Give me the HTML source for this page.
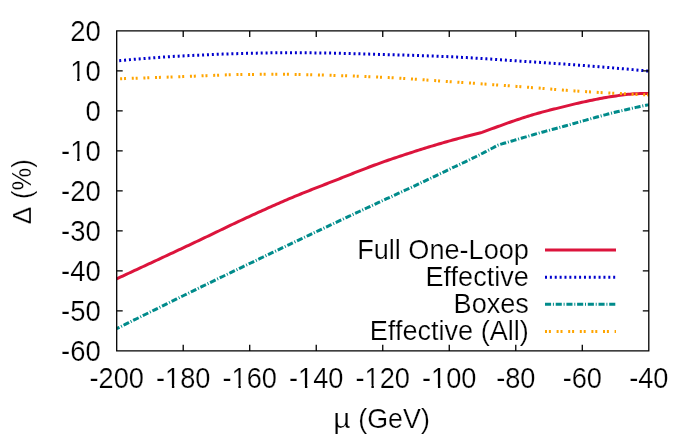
<!DOCTYPE html>
<html><head><meta charset="utf-8"><title>plot</title>
<style>
html,body{margin:0;padding:0;background:#fff;}
body{width:698px;height:438px;overflow:hidden;}
svg{display:block;will-change:transform;}
text{font-family:"Liberation Sans",sans-serif;font-size:27.2px;fill:#000;stroke:#fff;stroke-width:0.22px;}
</style></head><body>
<svg width="698" height="438" viewBox="0 0 698 438">
<rect width="698" height="438" fill="#fff"/>

<g fill="none" stroke-width="3" stroke-linejoin="round">
<path d="M116.7,278.80 L118.7,277.88 L120.7,276.95 L122.7,276.03 L124.7,275.10 L126.7,274.18 L128.7,273.25 L130.7,272.32 L132.7,271.40 L134.7,270.47 L136.7,269.54 L138.7,268.61 L140.7,267.68 L142.7,266.75 L144.7,265.82 L146.7,264.89 L148.7,263.96 L150.7,263.03 L152.7,262.10 L154.7,261.17 L156.7,260.24 L158.7,259.31 L160.7,258.37 L162.7,257.44 L164.7,256.51 L166.7,255.57 L168.7,254.64 L170.7,253.71 L172.7,252.77 L174.7,251.84 L176.7,250.90 L178.7,249.97 L180.7,249.03 L182.7,248.09 L184.7,247.16 L186.7,246.22 L188.7,245.28 L190.7,244.34 L192.7,243.40 L194.7,242.46 L196.7,241.51 L198.7,240.57 L200.7,239.62 L202.7,238.67 L204.7,237.72 L206.7,236.76 L208.7,235.80 L210.7,234.84 L212.7,233.88 L214.7,232.92 L216.7,231.95 L218.7,230.99 L220.7,230.02 L222.7,229.06 L224.7,228.10 L226.7,227.14 L228.7,226.18 L230.7,225.22 L232.7,224.27 L234.7,223.32 L236.7,222.37 L238.7,221.43 L240.7,220.49 L242.7,219.55 L244.7,218.62 L246.7,217.70 L248.7,216.78 L250.7,215.86 L252.7,214.95 L254.7,214.04 L256.7,213.12 L258.7,212.22 L260.7,211.31 L262.7,210.41 L264.7,209.51 L266.7,208.61 L268.7,207.71 L270.7,206.82 L272.7,205.93 L274.7,205.05 L276.7,204.17 L278.7,203.30 L280.7,202.43 L282.7,201.56 L284.7,200.70 L286.7,199.84 L288.7,198.99 L290.7,198.15 L292.7,197.31 L294.7,196.47 L296.7,195.65 L298.7,194.83 L300.7,194.01 L302.7,193.20 L304.7,192.40 L306.7,191.59 L308.7,190.80 L310.7,190.00 L312.7,189.21 L314.7,188.42 L316.7,187.64 L318.7,186.86 L320.7,186.07 L322.7,185.29 L324.7,184.51 L326.7,183.73 L328.7,182.95 L330.7,182.17 L332.7,181.39 L334.7,180.61 L336.7,179.83 L338.7,179.04 L340.7,178.25 L342.7,177.46 L344.7,176.67 L346.7,175.87 L348.7,175.08 L350.7,174.29 L352.7,173.50 L354.7,172.71 L356.7,171.92 L358.7,171.13 L360.7,170.35 L362.7,169.57 L364.7,168.80 L366.7,168.03 L368.7,167.27 L370.7,166.51 L372.7,165.77 L374.7,165.02 L376.7,164.29 L378.7,163.57 L380.7,162.85 L382.7,162.14 L384.7,161.44 L386.7,160.74 L388.7,160.04 L390.7,159.35 L392.7,158.67 L394.7,157.99 L396.7,157.32 L398.7,156.65 L400.7,155.98 L402.7,155.32 L404.7,154.66 L406.7,154.01 L408.7,153.36 L410.7,152.71 L412.7,152.07 L414.7,151.43 L416.7,150.79 L418.7,150.16 L420.7,149.53 L422.7,148.91 L424.7,148.28 L426.7,147.66 L428.7,147.05 L430.7,146.44 L432.7,145.83 L434.7,145.23 L436.7,144.63 L438.7,144.04 L440.7,143.46 L442.7,142.87 L444.7,142.30 L446.7,141.73 L448.7,141.16 L450.7,140.60 L452.7,140.05 L454.7,139.50 L456.7,138.95 L458.7,138.41 L460.7,137.87 L462.7,137.33 L464.7,136.80 L466.7,136.28 L468.7,135.75 L470.7,135.24 L472.7,134.72 L474.7,134.21 L476.7,133.71 L478.7,133.21 L480.7,132.72 L482.0,132.40 L484.0,131.65 L486.0,130.91 L488.0,130.17 L490.0,129.43 L492.0,128.70 L494.0,127.97 L496.0,127.24 L498.0,126.52 L500.0,125.80 L502.0,125.08 L504.0,124.36 L506.0,123.65 L508.0,122.93 L510.0,122.22 L512.0,121.51 L514.0,120.82 L516.0,120.13 L518.0,119.46 L520.0,118.80 L522.0,118.15 L524.0,117.51 L526.0,116.87 L528.0,116.25 L530.0,115.63 L532.0,115.02 L534.0,114.42 L536.0,113.84 L538.0,113.26 L540.0,112.70 L542.0,112.15 L544.0,111.62 L546.0,111.09 L548.0,110.58 L550.0,110.08 L552.0,109.58 L554.0,109.08 L556.0,108.59 L558.0,108.09 L560.0,107.60 L562.0,107.10 L564.0,106.60 L566.0,106.10 L568.0,105.60 L570.0,105.10 L572.0,104.61 L574.0,104.13 L576.0,103.65 L578.0,103.19 L580.0,102.74 L582.0,102.30 L584.0,101.87 L586.0,101.44 L588.0,101.02 L590.0,100.59 L592.0,100.17 L594.0,99.76 L596.0,99.35 L598.0,98.95 L600.0,98.56 L602.0,98.19 L604.0,97.82 L606.0,97.46 L608.0,97.12 L610.0,96.80 L612.0,96.49 L614.0,96.20 L616.0,95.92 L618.0,95.63 L620.0,95.35 L622.0,95.07 L624.0,94.81 L626.0,94.57 L628.0,94.34 L630.0,94.14 L632.0,93.98 L634.0,93.85 L636.0,93.76 L638.0,93.67 L640.0,93.59 L642.0,93.52 L644.0,93.46 L646.0,93.42 L648.0,93.40 L648.8,93.40" stroke="#dc143c"/>
<path d="M116.7,60.90 L118.7,60.71 L120.7,60.53 L122.7,60.35 L124.7,60.16 L126.7,59.98 L128.7,59.81 L130.7,59.63 L132.7,59.46 L134.7,59.28 L136.7,59.11 L138.7,58.95 L140.7,58.78 L142.7,58.62 L144.7,58.46 L146.7,58.30 L148.7,58.14 L150.7,57.99 L152.7,57.84 L154.7,57.69 L156.7,57.54 L158.7,57.40 L160.7,57.26 L162.7,57.12 L164.7,56.98 L166.7,56.85 L168.7,56.72 L170.7,56.60 L172.7,56.48 L174.7,56.36 L176.7,56.24 L178.7,56.13 L180.7,56.02 L182.7,55.92 L184.7,55.81 L186.7,55.71 L188.7,55.61 L190.7,55.51 L192.7,55.41 L194.7,55.32 L196.7,55.22 L198.7,55.13 L200.7,55.03 L202.7,54.94 L204.7,54.85 L206.7,54.76 L208.7,54.67 L210.7,54.59 L212.7,54.50 L214.7,54.42 L216.7,54.34 L218.7,54.26 L220.7,54.19 L222.7,54.11 L224.7,54.04 L226.7,53.96 L228.7,53.89 L230.7,53.83 L232.7,53.76 L234.7,53.70 L236.7,53.64 L238.7,53.58 L240.7,53.52 L242.7,53.47 L244.7,53.41 L246.7,53.36 L248.7,53.32 L250.7,53.27 L252.7,53.22 L254.7,53.18 L256.7,53.13 L258.7,53.08 L260.7,53.04 L262.7,52.99 L264.7,52.95 L266.7,52.91 L268.7,52.87 L270.7,52.83 L272.7,52.80 L274.7,52.77 L276.7,52.75 L278.7,52.73 L280.7,52.71 L282.7,52.70 L284.7,52.70 L286.7,52.70 L288.7,52.70 L290.7,52.71 L292.7,52.72 L294.7,52.73 L296.7,52.74 L298.7,52.75 L300.7,52.77 L302.7,52.78 L304.7,52.80 L306.7,52.81 L308.7,52.83 L310.7,52.85 L312.7,52.87 L314.7,52.89 L316.7,52.91 L318.7,52.93 L320.7,52.95 L322.7,52.98 L324.7,53.01 L326.7,53.04 L328.7,53.07 L330.7,53.11 L332.7,53.15 L334.7,53.19 L336.7,53.23 L338.7,53.28 L340.7,53.32 L342.7,53.37 L344.7,53.42 L346.7,53.47 L348.7,53.52 L350.7,53.58 L352.7,53.63 L354.7,53.69 L356.7,53.74 L358.7,53.80 L360.7,53.86 L362.7,53.91 L364.7,53.97 L366.7,54.03 L368.7,54.09 L370.7,54.15 L372.7,54.21 L374.7,54.26 L376.7,54.32 L378.7,54.38 L380.7,54.44 L382.7,54.49 L384.7,54.55 L386.7,54.60 L388.7,54.66 L390.7,54.72 L392.7,54.77 L394.7,54.83 L396.7,54.89 L398.7,54.95 L400.7,55.00 L402.7,55.06 L404.7,55.12 L406.7,55.18 L408.7,55.24 L410.7,55.31 L412.7,55.37 L414.7,55.43 L416.7,55.50 L418.7,55.56 L420.7,55.63 L422.7,55.69 L424.7,55.76 L426.7,55.83 L428.7,55.90 L430.7,55.98 L432.7,56.05 L434.7,56.12 L436.7,56.20 L438.7,56.28 L440.7,56.36 L442.7,56.44 L444.7,56.52 L446.7,56.60 L448.7,56.69 L450.7,56.77 L452.7,56.87 L454.7,56.96 L456.7,57.06 L458.7,57.16 L460.7,57.27 L462.7,57.38 L464.7,57.49 L466.7,57.60 L468.7,57.72 L470.7,57.84 L472.7,57.96 L474.7,58.08 L476.7,58.21 L478.7,58.33 L480.7,58.46 L482.7,58.59 L484.7,58.72 L486.7,58.86 L488.7,58.99 L490.7,59.12 L492.7,59.26 L494.7,59.40 L496.7,59.53 L498.7,59.67 L500.7,59.80 L502.7,59.94 L504.7,60.07 L506.7,60.21 L508.7,60.34 L510.7,60.48 L512.7,60.61 L514.7,60.74 L516.7,60.87 L518.7,61.00 L520.7,61.13 L522.7,61.26 L524.7,61.40 L526.7,61.53 L528.7,61.66 L530.7,61.79 L532.7,61.92 L534.7,62.06 L536.7,62.19 L538.7,62.32 L540.7,62.46 L542.7,62.59 L544.7,62.73 L546.7,62.86 L548.7,63.00 L550.7,63.14 L552.7,63.27 L554.7,63.41 L556.7,63.55 L558.7,63.69 L560.7,63.83 L562.7,63.98 L564.7,64.12 L566.7,64.26 L568.7,64.41 L570.7,64.55 L572.7,64.70 L574.7,64.85 L576.7,65.00 L578.7,65.15 L580.7,65.30 L582.7,65.45 L584.7,65.61 L586.7,65.76 L588.7,65.92 L590.7,66.08 L592.7,66.23 L594.7,66.39 L596.7,66.55 L598.7,66.72 L600.7,66.88 L602.7,67.04 L604.7,67.21 L606.7,67.37 L608.7,67.54 L610.7,67.71 L612.7,67.88 L614.7,68.05 L616.7,68.22 L618.7,68.39 L620.7,68.57 L622.7,68.74 L624.7,68.92 L626.7,69.09 L628.7,69.27 L630.7,69.45 L632.7,69.63 L634.7,69.81 L636.7,69.99 L638.7,70.17 L640.7,70.35 L642.7,70.53 L644.7,70.72 L646.7,70.90 L648.7,71.09 L648.8,71.10" stroke="#0000cd" stroke-dasharray="2 2.887" stroke-dashoffset="2.37"/>
<path d="M116.7,328.70 L118.7,327.70 L120.7,326.70 L122.7,325.70 L124.7,324.70 L126.7,323.70 L128.7,322.70 L130.7,321.71 L132.7,320.71 L134.7,319.71 L136.7,318.72 L138.7,317.72 L140.7,316.73 L142.7,315.74 L144.7,314.74 L146.7,313.75 L148.7,312.76 L150.7,311.77 L152.7,310.78 L154.7,309.79 L156.7,308.80 L158.7,307.81 L160.7,306.82 L162.7,305.83 L164.7,304.84 L166.7,303.86 L168.7,302.87 L170.7,301.89 L172.7,300.90 L174.7,299.92 L176.7,298.93 L178.7,297.95 L180.7,296.97 L182.7,295.99 L184.7,295.01 L186.7,294.03 L188.7,293.05 L190.7,292.07 L192.7,291.09 L194.7,290.11 L196.7,289.13 L198.7,288.16 L200.7,287.18 L202.7,286.21 L204.7,285.23 L206.7,284.26 L208.7,283.29 L210.7,282.31 L212.7,281.34 L214.7,280.37 L216.7,279.40 L218.7,278.43 L220.7,277.46 L222.7,276.49 L224.7,275.52 L226.7,274.56 L228.7,273.59 L230.7,272.62 L232.7,271.66 L234.7,270.69 L236.7,269.73 L238.7,268.76 L240.7,267.80 L242.7,266.84 L244.7,265.87 L246.7,264.91 L248.7,263.95 L250.7,262.99 L252.7,262.03 L254.7,261.07 L256.7,260.11 L258.7,259.15 L260.7,258.19 L262.7,257.23 L264.7,256.27 L266.7,255.32 L268.7,254.36 L270.7,253.40 L272.7,252.45 L274.7,251.49 L276.7,250.54 L278.7,249.58 L280.7,248.63 L282.7,247.67 L284.7,246.72 L286.7,245.77 L288.7,244.81 L290.7,243.86 L292.7,242.91 L294.7,241.96 L296.7,241.01 L298.7,240.06 L300.7,239.11 L302.7,238.16 L304.7,237.21 L306.7,236.26 L308.7,235.31 L310.7,234.36 L312.7,233.42 L314.7,232.47 L316.7,231.52 L318.7,230.58 L320.7,229.63 L322.7,228.69 L324.7,227.74 L326.7,226.80 L328.7,225.86 L330.7,224.91 L332.7,223.97 L334.7,223.03 L336.7,222.09 L338.7,221.14 L340.7,220.20 L342.7,219.26 L344.7,218.32 L346.7,217.38 L348.7,216.44 L350.7,215.51 L352.7,214.57 L354.7,213.63 L356.7,212.69 L358.7,211.75 L360.7,210.82 L362.7,209.88 L364.7,208.95 L366.7,208.01 L368.7,207.08 L370.7,206.14 L372.7,205.21 L374.7,204.27 L376.7,203.34 L378.7,202.41 L380.7,201.49 L382.7,200.56 L384.7,199.64 L386.7,198.71 L388.7,197.79 L390.7,196.87 L392.7,195.95 L394.7,195.03 L396.7,194.11 L398.7,193.19 L400.7,192.27 L402.7,191.34 L404.7,190.42 L406.7,189.50 L408.7,188.57 L410.7,187.64 L412.7,186.71 L414.7,185.78 L416.7,184.85 L418.7,183.91 L420.7,182.97 L422.7,182.03 L424.7,181.08 L426.7,180.13 L428.7,179.18 L430.7,178.23 L432.7,177.28 L434.7,176.32 L436.7,175.37 L438.7,174.41 L440.7,173.45 L442.7,172.50 L444.7,171.54 L446.7,170.58 L448.7,169.62 L450.7,168.67 L452.7,167.71 L454.7,166.76 L456.7,165.82 L458.7,164.88 L460.7,163.93 L462.7,162.99 L464.7,162.04 L466.7,161.09 L468.7,160.14 L470.7,159.18 L472.7,158.21 L474.7,157.23 L476.7,156.25 L478.7,155.25 L480.7,154.25 L482.7,153.23 L484.7,152.19 L486.7,151.15 L488.7,150.10 L490.7,149.04 L492.7,147.97 L494.7,146.89 L496.7,145.81 L498.0,145.10 L500.0,144.50 L502.0,143.91 L504.0,143.31 L506.0,142.72 L508.0,142.13 L510.0,141.54 L512.0,140.95 L514.0,140.36 L516.0,139.77 L518.0,139.19 L520.0,138.60 L522.0,138.01 L524.0,137.43 L526.0,136.84 L528.0,136.25 L530.0,135.67 L532.0,135.09 L534.0,134.51 L536.0,133.93 L538.0,133.36 L540.0,132.80 L542.0,132.25 L544.0,131.70 L546.0,131.16 L548.0,130.62 L550.0,130.09 L552.0,129.56 L554.0,129.02 L556.0,128.49 L558.0,127.95 L560.0,127.40 L562.0,126.85 L564.0,126.29 L566.0,125.72 L568.0,125.15 L570.0,124.59 L572.0,124.02 L574.0,123.45 L576.0,122.88 L578.0,122.32 L580.0,121.76 L582.0,121.20 L584.0,120.65 L586.0,120.09 L588.0,119.53 L590.0,118.98 L592.0,118.42 L594.0,117.87 L596.0,117.31 L598.0,116.76 L600.0,116.21 L602.0,115.67 L604.0,115.13 L606.0,114.60 L608.0,114.07 L610.0,113.56 L612.0,113.05 L614.0,112.55 L616.0,112.06 L618.0,111.57 L620.0,111.09 L622.0,110.61 L624.0,110.14 L626.0,109.67 L628.0,109.21 L630.0,108.75 L632.0,108.30 L634.0,107.85 L636.0,107.40 L638.0,106.97 L640.0,106.53 L642.0,106.11 L644.0,105.69 L646.0,105.27 L648.0,104.86 L648.8,104.70" stroke="#008b8b" stroke-dasharray="6.1 1.8 1 1.815" stroke-dashoffset="3.0"/>
<path d="M116.7,78.90 L118.7,78.83 L120.7,78.76 L122.7,78.69 L124.7,78.62 L126.7,78.55 L128.7,78.48 L130.7,78.41 L132.7,78.34 L134.7,78.27 L136.7,78.20 L138.7,78.13 L140.7,78.06 L142.7,77.99 L144.7,77.92 L146.7,77.85 L148.7,77.78 L150.7,77.71 L152.7,77.64 L154.7,77.57 L156.7,77.50 L158.7,77.43 L160.7,77.36 L162.7,77.29 L164.7,77.22 L166.7,77.16 L168.7,77.09 L170.7,77.02 L172.7,76.95 L174.7,76.88 L176.7,76.81 L178.7,76.75 L180.7,76.68 L182.7,76.61 L184.7,76.54 L186.7,76.47 L188.7,76.39 L190.7,76.32 L192.7,76.24 L194.7,76.16 L196.7,76.08 L198.7,75.99 L200.7,75.91 L202.7,75.82 L204.7,75.74 L206.7,75.65 L208.7,75.57 L210.7,75.48 L212.7,75.40 L214.7,75.32 L216.7,75.24 L218.7,75.16 L220.7,75.08 L222.7,75.01 L224.7,74.94 L226.7,74.87 L228.7,74.80 L230.7,74.74 L232.7,74.69 L234.7,74.63 L236.7,74.58 L238.7,74.54 L240.7,74.50 L242.7,74.47 L244.7,74.44 L246.7,74.42 L248.7,74.40 L250.7,74.39 L252.7,74.38 L254.7,74.38 L256.7,74.37 L258.7,74.36 L260.7,74.35 L262.7,74.34 L264.7,74.34 L266.7,74.33 L268.7,74.32 L270.7,74.32 L272.7,74.31 L274.7,74.31 L276.7,74.31 L278.7,74.30 L280.7,74.30 L282.7,74.30 L284.7,74.30 L286.7,74.30 L288.7,74.32 L290.7,74.34 L292.7,74.36 L294.7,74.39 L296.7,74.43 L298.7,74.47 L300.7,74.51 L302.7,74.56 L304.7,74.61 L306.7,74.66 L308.7,74.71 L310.7,74.77 L312.7,74.82 L314.7,74.87 L316.7,74.92 L318.7,74.97 L320.7,75.02 L322.7,75.07 L324.7,75.12 L326.7,75.18 L328.7,75.24 L330.7,75.30 L332.7,75.36 L334.7,75.42 L336.7,75.48 L338.7,75.54 L340.7,75.61 L342.7,75.68 L344.7,75.74 L346.7,75.81 L348.7,75.89 L350.7,75.96 L352.7,76.03 L354.7,76.11 L356.7,76.18 L358.7,76.26 L360.7,76.34 L362.7,76.42 L364.7,76.50 L366.7,76.58 L368.7,76.67 L370.7,76.75 L372.7,76.84 L374.7,76.93 L376.7,77.01 L378.7,77.10 L380.7,77.19 L382.7,77.29 L384.7,77.38 L386.7,77.48 L388.7,77.58 L390.7,77.69 L392.7,77.80 L394.7,77.91 L396.7,78.02 L398.7,78.14 L400.7,78.27 L402.7,78.39 L404.7,78.52 L406.7,78.65 L408.7,78.78 L410.7,78.91 L412.7,79.05 L414.7,79.18 L416.7,79.32 L418.7,79.46 L420.7,79.60 L422.7,79.74 L424.7,79.88 L426.7,80.03 L428.7,80.17 L430.7,80.31 L432.7,80.46 L434.7,80.60 L436.7,80.74 L438.7,80.88 L440.7,81.03 L442.7,81.17 L444.7,81.31 L446.7,81.44 L448.7,81.58 L450.7,81.72 L452.7,81.85 L454.7,81.99 L456.7,82.12 L458.7,82.26 L460.7,82.40 L462.7,82.54 L464.7,82.67 L466.7,82.81 L468.7,82.95 L470.7,83.09 L472.7,83.23 L474.7,83.37 L476.7,83.51 L478.7,83.65 L480.7,83.79 L482.7,83.93 L484.7,84.07 L486.7,84.21 L488.7,84.35 L490.7,84.50 L492.7,84.64 L494.7,84.78 L496.7,84.93 L498.7,85.07 L500.7,85.21 L502.7,85.36 L504.7,85.50 L506.7,85.65 L508.7,85.79 L510.7,85.94 L512.7,86.09 L514.7,86.23 L516.7,86.38 L518.7,86.53 L520.7,86.68 L522.7,86.84 L524.7,86.99 L526.7,87.15 L528.7,87.31 L530.7,87.47 L532.7,87.63 L534.7,87.79 L536.7,87.96 L538.7,88.12 L540.7,88.28 L542.7,88.45 L544.7,88.61 L546.7,88.77 L548.7,88.94 L550.7,89.10 L552.7,89.26 L554.7,89.42 L556.7,89.58 L558.7,89.74 L560.7,89.89 L562.7,90.05 L564.7,90.20 L566.7,90.35 L568.7,90.49 L570.7,90.64 L572.7,90.78 L574.7,90.92 L576.7,91.06 L578.7,91.19 L580.7,91.32 L582.7,91.44 L584.7,91.57 L586.7,91.69 L588.7,91.81 L590.7,91.93 L592.7,92.05 L594.7,92.17 L596.7,92.29 L598.7,92.41 L600.7,92.52 L602.7,92.64 L604.7,92.75 L606.7,92.86 L608.7,92.97 L610.7,93.08 L612.7,93.19 L614.7,93.30 L616.7,93.40 L618.7,93.51 L620.7,93.61 L622.7,93.71 L624.7,93.81 L626.7,93.91 L628.7,94.01 L630.7,94.10 L632.7,94.20 L634.7,94.29 L636.7,94.38 L638.7,94.47 L640.7,94.56 L642.7,94.65 L644.7,94.73 L646.7,94.81 L648.7,94.90 L648.8,94.90" stroke="#ffa500" stroke-dasharray="2 1.9 2 5.74" stroke-dashoffset="8.2"/>
</g>
<path d="M116.7,30.9H648.8V350.8H116.7ZM116.70,350.8v-6.0M116.70,30.9v6.0M183.21,350.8v-6.0M183.21,30.9v6.0M249.72,350.8v-6.0M249.72,30.9v6.0M316.24,350.8v-6.0M316.24,30.9v6.0M382.75,350.8v-6.0M382.75,30.9v6.0M449.26,350.8v-6.0M449.26,30.9v6.0M515.77,350.8v-6.0M515.77,30.9v6.0M582.29,350.8v-6.0M582.29,30.9v6.0M648.80,350.8v-6.0M648.80,30.9v6.0M116.7,350.80h6.0M648.8,350.80h-6.0M116.7,310.81h6.0M648.8,310.81h-6.0M116.7,270.83h6.0M648.8,270.83h-6.0M116.7,230.84h6.0M648.8,230.84h-6.0M116.7,190.85h6.0M648.8,190.85h-6.0M116.7,150.86h6.0M648.8,150.86h-6.0M116.7,110.88h6.0M648.8,110.88h-6.0M116.7,70.89h6.0M648.8,70.89h-6.0M116.7,30.90h6.0M648.8,30.90h-6.0" fill="none" stroke="#000" stroke-width="1.3"/>
<text transform="translate(100.80,360.80) scale(1.01,1.09)" text-anchor="end">-60</text>
<text transform="translate(100.80,320.81) scale(1.01,1.09)" text-anchor="end">-50</text>
<text transform="translate(100.80,280.83) scale(1.01,1.09)" text-anchor="end">-40</text>
<text transform="translate(100.80,240.84) scale(1.01,1.09)" text-anchor="end">-30</text>
<text transform="translate(100.80,200.85) scale(1.01,1.09)" text-anchor="end">-20</text>
<text transform="translate(100.80,160.86) scale(1.01,1.09)" text-anchor="end">-10</text>
<text transform="translate(100.80,120.88) scale(1.01,1.09)" text-anchor="end">0</text>
<text transform="translate(100.80,80.89) scale(1.01,1.09)" text-anchor="end">10</text>
<text transform="translate(100.80,40.90) scale(1.01,1.09)" text-anchor="end">20</text>
<text transform="translate(116.70,388.00) scale(1,1.09)" text-anchor="middle">-200</text>
<text transform="translate(183.21,388.00) scale(1,1.09)" text-anchor="middle">-180</text>
<text transform="translate(249.72,388.00) scale(1,1.09)" text-anchor="middle">-160</text>
<text transform="translate(316.24,388.00) scale(1,1.09)" text-anchor="middle">-140</text>
<text transform="translate(382.75,388.00) scale(1,1.09)" text-anchor="middle">-120</text>
<text transform="translate(449.26,388.00) scale(1,1.09)" text-anchor="middle">-100</text>
<text transform="translate(515.77,388.00) scale(1,1.09)" text-anchor="middle">-80</text>
<text transform="translate(582.29,388.00) scale(1,1.09)" text-anchor="middle">-60</text>
<text transform="translate(648.80,388.00) scale(1,1.09)" text-anchor="middle">-40</text>
<text transform="translate(333.25,428.3) scale(1.1,1.05)">µ</text>
<text transform="translate(429.8,428.3) scale(0.985,1.05)" text-anchor="end">(GeV)</text>
<text transform="translate(30.8,224.3) rotate(-90) scale(0.96,0.96)">Δ</text>
<text transform="translate(30.8,199.0) rotate(-90) scale(0.94,1.04)">(%)</text>
<g transform="translate(100.80,160.86) scale(1.01,1.09)" fill="#fff"><rect x="-29.09" y="-3.03" width="5.67" height="3.63"/><rect x="-21.02" y="-3.03" width="5.46" height="3.63"/></g>
<g transform="translate(100.80,80.89) scale(1.01,1.09)" fill="#fff"><rect x="-29.09" y="-3.03" width="5.67" height="3.63"/><rect x="-21.02" y="-3.03" width="5.46" height="3.63"/></g>
<g transform="translate(183.21,388.00) scale(1,1.09)" fill="#fff"><rect x="-16.99" y="-3.03" width="5.67" height="3.63"/><rect x="-8.91" y="-3.03" width="5.46" height="3.63"/></g>
<g transform="translate(249.72,388.00) scale(1,1.09)" fill="#fff"><rect x="-16.99" y="-3.03" width="5.67" height="3.63"/><rect x="-8.91" y="-3.03" width="5.46" height="3.63"/></g>
<g transform="translate(316.24,388.00) scale(1,1.09)" fill="#fff"><rect x="-16.99" y="-3.03" width="5.67" height="3.63"/><rect x="-8.91" y="-3.03" width="5.46" height="3.63"/></g>
<g transform="translate(382.75,388.00) scale(1,1.09)" fill="#fff"><rect x="-16.99" y="-3.03" width="5.67" height="3.63"/><rect x="-8.91" y="-3.03" width="5.46" height="3.63"/></g>
<g transform="translate(449.26,388.00) scale(1,1.09)" fill="#fff"><rect x="-16.99" y="-3.03" width="5.67" height="3.63"/><rect x="-8.91" y="-3.03" width="5.46" height="3.63"/></g>
<text transform="translate(528.90,258.80) scale(0.997,1.05)" text-anchor="end">Full One-Loop</text>
<text transform="translate(528.90,286.20) scale(0.997,1.05)" text-anchor="end">Effective</text>
<text transform="translate(528.90,313.20) scale(0.997,1.05)" text-anchor="end">Boxes</text>
<text transform="translate(528.90,340.40) scale(0.997,1.05)" text-anchor="end">Effective (All)</text>
<g fill="none" stroke-width="3">
<path d="M545,249.9H616" stroke="#dc143c"/>
<path d="M545,277.3H616" stroke="#0000cd" stroke-dasharray="2 2.87"/>
<path d="M545,304.3H616" stroke="#008b8b" stroke-dasharray="6.1 1.8 1 1.8"/>
<path d="M545,331.5H616" stroke="#ffa500" stroke-dasharray="2 1.9 2 5.7"/>
</g>
</svg></body></html>
